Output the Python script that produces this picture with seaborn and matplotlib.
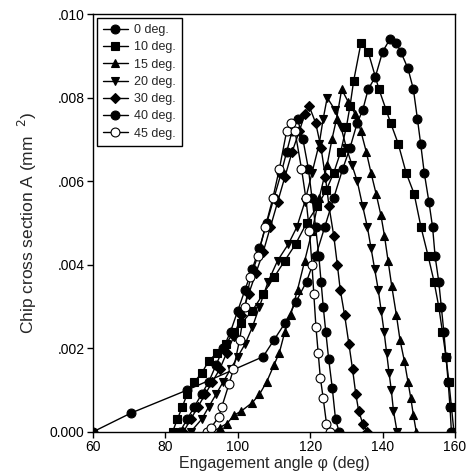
import matplotlib
matplotlib.use("Agg")
import matplotlib.pyplot as plt
import seaborn as sns
import pandas as pd

# ---- data ----
ang_0 = [60, 70.5, 86, 107, 110, 113, 116, 119, 121.5, 124, 126.5, 129, 131, 133, 134.5, 136, 138, 140, 142,
         143.8, 145, 147, 148.5, 149.6, 150.5, 151.5, 152.8, 153.8, 154.5, 155.5, 156.2, 156.9, 157.5, 158.1, 158.6, 159]
val_0 = [0, 0.00045, 0.0010, 0.0018, 0.0022, 0.0026, 0.0031, 0.0036, 0.0042, 0.0049, 0.0056, 0.0063, 0.0068, 0.0074,
         0.0077, 0.0082, 0.0085, 0.0091, 0.0094, 0.0093, 0.0091, 0.0087, 0.0082, 0.0075, 0.0069, 0.0062, 0.0055,
         0.0049, 0.0042, 0.0036, 0.0030, 0.0024, 0.0018, 0.0012, 0.0006, 0]

ang_10 = [82, 83.3, 84.7, 86, 88, 90, 92, 94.4, 96.7, 99, 101, 104, 107, 110, 113, 116, 119, 122, 124.5, 126.5, 128.4,
          130, 131, 132, 134, 136, 139, 141, 142.2, 144.3, 146.5, 148.7, 150.6, 152.6, 154.2, 155.5, 156.5, 157.5,
          158.3, 159, 159.7]
val_10 = [0, 0.0003, 0.0006, 0.0009, 0.0012, 0.0014, 0.0017, 0.0019, 0.0021, 0.0024, 0.0026, 0.0029, 0.0033, 0.0037,
          0.0041, 0.0045, 0.0050, 0.0054, 0.0058, 0.0062, 0.0067, 0.0073, 0.0078, 0.0084, 0.0093, 0.0091, 0.0082,
          0.0077, 0.0074, 0.0069, 0.0062, 0.0057, 0.0049, 0.0042, 0.0036, 0.0030, 0.0024, 0.0018, 0.0012, 0.0006, 0]

ang_15 = [93, 95, 97, 99, 101, 104, 106, 108, 110, 111.5, 113, 114.6, 116.5, 118.5, 120.5, 122.5, 124.7, 126, 127.3,
          128.7, 130.5, 132.5, 134, 135.5, 136.8, 138.2, 139.5, 140.5, 141.5, 142.5, 143.8, 144.8, 146, 147, 147.8,
          148.5, 149.3]
val_15 = [0, 0.0001, 0.0002, 0.0004, 0.0005, 0.0007, 0.0009, 0.0012, 0.0016, 0.0019, 0.0024, 0.0028, 0.0034, 0.0041,
          0.0048, 0.0056, 0.0064, 0.0070, 0.0075, 0.0082, 0.0079, 0.0076, 0.0072, 0.0067, 0.0062, 0.0057, 0.0052,
          0.0047, 0.0041, 0.0035, 0.0028, 0.0022, 0.0017, 0.0012, 0.0008, 0.0004, 0]

ang_20 = [87, 90, 92, 94, 96, 98, 100, 102, 104, 106, 108.4, 111, 114, 116.3, 118.5, 120.5, 122.5, 123.6, 124.7,
          126.9, 128.5, 130, 131.5, 133, 134.5, 135.8, 136.8, 137.8, 138.8, 139.6, 140.4, 141.1, 141.8, 142.4,
          143, 144]
val_20 = [0, 0.0003, 0.0006, 0.0009, 0.0012, 0.0015, 0.0018, 0.0021, 0.0025, 0.0030, 0.0036, 0.0041, 0.0045, 0.0049,
          0.0055, 0.0062, 0.0069, 0.0075, 0.0080, 0.0077, 0.0073, 0.0068, 0.0064, 0.0060, 0.0054, 0.0049, 0.0044,
          0.0039, 0.0034, 0.0029, 0.0024, 0.0019, 0.0014, 0.0010, 0.0005, 0]

ang_30 = [85, 87, 89, 91, 93, 95, 97, 99, 101, 103, 105, 107, 109, 111, 113, 115, 117, 118.5, 119.7, 121.5, 123,
          124.2, 125.2, 126.5, 127.5, 128.3, 129.5, 130.7, 131.7, 132.6, 133.4, 134.5, 135.8]
val_30 = [0, 0.0003, 0.0006, 0.0009, 0.0012, 0.0015, 0.0019, 0.0023, 0.0028, 0.0033, 0.0038, 0.0043, 0.0049, 0.0055,
          0.0061, 0.0067, 0.0072, 0.0076, 0.0078, 0.0074, 0.0068, 0.0061, 0.0054, 0.0047, 0.0040, 0.0034, 0.0028,
          0.0021, 0.0015, 0.0009, 0.0005, 0.0002, 0]

ang_40 = [84, 86, 88, 90, 92, 94, 96, 98, 100, 102, 104, 106, 108, 110, 112, 113.5, 115, 116.5, 118, 119.5, 120.5,
          121.5, 122.4, 123, 123.6, 124.3, 125.1, 126.1, 127, 128]
val_40 = [0, 0.0003, 0.0006, 0.0009, 0.0012, 0.0016, 0.0020, 0.0024, 0.0029, 0.0034, 0.0039, 0.0044, 0.0050, 0.0056,
          0.0062, 0.0067, 0.0072, 0.0075, 0.0070, 0.0063, 0.0056, 0.0049, 0.0042, 0.0036, 0.0030, 0.0024, 0.00175,
          0.00105, 0.0003, 0]

ang_45 = [91.6, 92.6, 94.7, 95.6, 97.6, 98.8, 100.5, 102, 103.5, 105.5, 107.6, 109.7, 111.5, 113.5, 114.7, 115.8,
          117.6, 118.8, 119.8, 120.5, 121, 121.6, 122.2, 122.8, 123.6, 124.5, 125.5]
val_45 = [0, 0.0001, 0.00035, 0.0006, 0.00115, 0.0015, 0.0022, 0.0030, 0.0037, 0.0042, 0.0049, 0.0056, 0.0063, 0.0072,
          0.0074, 0.0072, 0.0063, 0.0056, 0.0048, 0.0040, 0.0033, 0.0025, 0.0019, 0.0013, 0.0008, 0.0002, 0]

labels = ["0 deg.", "10 deg.", "15 deg.", "20 deg.", "30 deg.", "40 deg.", "45 deg."]
x_ticks = [60, 80, 100, 120, 140, 160]
y_ticks = [0.000, 0.002, 0.004, 0.006, 0.008, 0.010]
y_tick_labels = ["0.000", ".002", ".004", ".006", ".008", ".010"]

series = [(ang_0, val_0), (ang_10, val_10), (ang_15, val_15), (ang_20, val_20),
          (ang_30, val_30), (ang_40, val_40), (ang_45, val_45)]
markers = ["o", "s", "^", "v", "D", "o", "o"]
msizes = [6.4, 6.0, 6.4, 6.4, 5.4, 6.4, 6.4]
faces = ["black", "black", "black", "black", "black", "black", "white"]

# ---- plot ----
sns.set_style("ticks")
plt.rcParams["font.family"] = ["Liberation Sans", "DejaVu Sans"]

fig = plt.figure(figsize=(4.74, 4.72), dpi=100)
ax = fig.add_axes([0.196, 0.085, 0.764, 0.885])

for (xs, ys), lab, m, ms, fc in zip(series, labels, markers, msizes, faces):
    df = pd.DataFrame({"angle": xs, "area": ys})
    sns.lineplot(data=df, x="angle", y="area", ax=ax, sort=False, estimator=None,
                 color="black", linewidth=1.0, marker=m, markersize=ms,
                 markerfacecolor=fc, markeredgecolor="black", markeredgewidth=0.8,
                 label=lab)

ax.set_xlim(60, 160)
ax.set_ylim(0, 0.010)
ax.set_xticks(x_ticks)
ax.set_yticks(y_ticks)
ax.set_yticklabels(y_tick_labels)
for s in ax.spines.values():
    s.set_visible(True)
    s.set_linewidth(1.0)
    s.set_color("black")
ax.tick_params(direction="out", length=4, width=1.0, pad=2, labelsize=10, colors="black")
ax.set_xlabel("Engagement angle \u03c6 (deg)", fontsize=11.5, labelpad=1)
ax.set_ylabel("Chip cross section A (mm  $^{2}$)", fontsize=12.5, labelpad=8)

leg = ax.legend(loc="upper left", fontsize=9, frameon=True, fancybox=False, framealpha=1,
                edgecolor="black", handlelength=2.0, handletextpad=0.5, borderpad=0.5,
                labelspacing=0.42, borderaxespad=0.3)
leg.get_frame().set_linewidth(1.0)

fig.savefig("out.png", dpi=100)
